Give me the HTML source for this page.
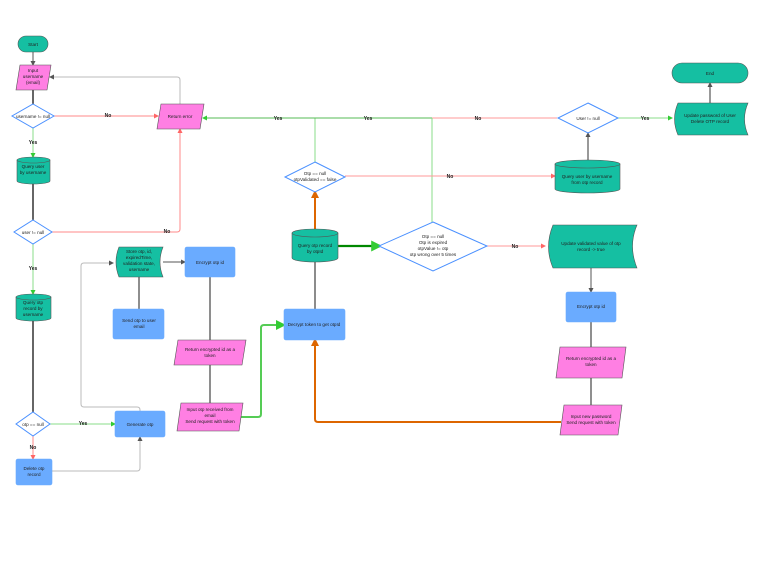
<!DOCTYPE html>
<html><head><meta charset="utf-8"><style>
html,body{margin:0;padding:0;background:#fff}
svg{display:block}
text{font-family:"Liberation Sans",sans-serif;font-size:4.6px;fill:#222;text-anchor:middle}
.l{font-size:5px;font-weight:bold}
</style></head><body>
<svg width="768" height="577" viewBox="0 0 768 577" xmlns="http://www.w3.org/2000/svg">
<defs>
<marker id="a" markerWidth="5" markerHeight="5" refX="4" refY="2.5" orient="auto"><path d="M0,0L5,2.5L0,5z" fill="#555"/></marker>
<marker id="ag" markerWidth="5" markerHeight="5" refX="4" refY="2.5" orient="auto"><path d="M0,0L5,2.5L0,5z" fill="#3c3"/></marker>
<marker id="ar" markerWidth="5" markerHeight="5" refX="4" refY="2.5" orient="auto"><path d="M0,0L5,2.5L0,5z" fill="#f66"/></marker>
<marker id="ao" markerWidth="4" markerHeight="4" refX="3" refY="2" orient="auto"><path d="M0,0L4,2L0,4z" fill="#d60"/></marker>
</defs>
<g fill="none" stroke-width="1">
<!-- connectors -->
<path d="M33 52V65" stroke="#555" marker-end="url(#a)"/>
<path d="M33 90V104" stroke="#333" stroke-width="1.5"/>
<path d="M54 116H158" stroke="#f88" marker-end="url(#ar)"/>
<path d="M180 104V80q0-3-3-3H50" stroke="#bbb" marker-end="url(#a)"/>
<path d="M33 128V157" stroke="#8d8" marker-end="url(#ag)"/>
<path d="M33 183V220" stroke="#333" stroke-width="1.5"/>
<path d="M52 232H177q3 0 3-3V129" stroke="#f88" marker-end="url(#ar)"/>
<path d="M33 244V294" stroke="#8d8" marker-end="url(#ag)"/>
<path d="M33 320V412" stroke="#333" stroke-width="1.5"/>
<path d="M50 424H115" stroke="#8d8" marker-end="url(#ag)"/>
<path d="M33 436V459" stroke="#f88" marker-end="url(#ar)"/>
<path d="M52 471H137q3 0 3-3V437" stroke="#bbb" marker-end="url(#a)"/>
<path d="M140 411V410q0-3-3-3H84q-3 0-3-3V266q0-3 3-3H113" stroke="#bbb" marker-end="url(#a)"/>
<path d="M163 262H185" stroke="#555" marker-end="url(#a)"/>
<path d="M139 277V309" stroke="#444" stroke-width="1.2"/>
<path d="M210 277V340" stroke="#444" stroke-width="1.2"/>
<path d="M210 365V403" stroke="#444" stroke-width="1.2"/>
<path d="M241 417H258q3 0 3-3V328q0-3 3-3H284" stroke="#5c5" stroke-width="2" marker-end="url(#ag)"/>
<path d="M315 309V262" stroke="#666" stroke-width="1.5"/>
<path d="M315 229V192" stroke="#d60" stroke-width="2" marker-end="url(#ao)"/>
<path d="M315 162V118" stroke="#8d8"/>
<path d="M432 118H203" stroke="#5b5" marker-end="url(#ag)"/>
<path d="M557 118H432" stroke="#f99"/>
<path d="M432 222V118" stroke="#8d8"/>
<path d="M345 176H555" stroke="#f99" marker-end="url(#ar)"/>
<path d="M338 246H380" stroke="#080" stroke-width="2.2" marker-end="url(#ag)"/>
<path d="M487 246H545" stroke="#f99" marker-end="url(#ar)"/>
<path d="M618 118H672" stroke="#8d8" marker-end="url(#ag)"/>
<path d="M588 160V133" stroke="#333" marker-end="url(#a)"/>
<path d="M710 103V83" stroke="#333" marker-end="url(#a)"/>
<path d="M591 268V292" stroke="#555" marker-end="url(#a)"/>
<path d="M591 322V347" stroke="#444" stroke-width="1.2"/>
<path d="M591 378V405" stroke="#444" stroke-width="1.2"/>
<path d="M561 422H318q-3 0-3-3V340" stroke="#d60" stroke-width="2" marker-end="url(#ao)"/>
</g>
<!-- shapes -->
<g stroke="#555" stroke-width="0.6">
<rect x="18" y="36" width="30" height="16" rx="8" fill="#15bfa2"/>
<rect x="672" y="63" width="76" height="20" rx="10" fill="#15bfa2"/>
<path d="M20 65H51L47 90H16z" fill="#ff7fe3"/>
<path d="M161 104H204L200 129H157z" fill="#ff7fe3"/>
<path d="M178 340H246L242 365H174z" fill="#ff7fe3"/>
<path d="M181 403H243L239 431H177z" fill="#ff7fe3"/>
<path d="M560 347H626L622 378H556z" fill="#ff7fe3"/>
<path d="M564 405H622L618 435H560z" fill="#ff7fe3"/>
<g fill="#15bfa2">
<path d="M17 160v21a16.5 3 0 0 0 33 0v-21z"/><ellipse cx="33.5" cy="160" rx="16.5" ry="3"/>
<path d="M16 297v21a17.5 3 0 0 0 35 0v-21z"/><ellipse cx="33.5" cy="297" rx="17.5" ry="3"/>
<path d="M292 233v25a23 4 0 0 0 46 0v-25z"/><ellipse cx="315" cy="233" rx="23" ry="4"/>
<path d="M555 164v25a32.5 4 0 0 0 65 0v-25z"/><ellipse cx="587.5" cy="164" rx="32.5" ry="4"/>
<path d="M119 247H163q-6 15 0 30H119q-6-15 0-30z"/>
<path d="M678 103H748q-7 16 0 32H678q-7-16 0-32z"/>
<path d="M553 225H637q-9 21 0 43H553q-9-21 0-43z"/>
</g>
<g fill="#6aabff" stroke="#6aabff">
<rect x="185" y="247" width="50" height="30" rx="2"/>
<rect x="113" y="309" width="51" height="30" rx="2"/>
<rect x="115" y="411" width="50" height="26" rx="2"/>
<rect x="16" y="459" width="36" height="26" rx="2"/>
<rect x="284" y="309" width="61" height="31" rx="2"/>
<rect x="566" y="292" width="50" height="30" rx="2"/>
</g>
<g fill="#fff" stroke="#4a90ff" stroke-width="1">
<path d="M33 104L54 116L33 128L12 116z"/>
<path d="M33 220L52 232L33 244L14 232z"/>
<path d="M33 412L50 424L33 436L16 424z"/>
<path d="M315 162L345 177L315 192L285 177z"/>
<path d="M433 222L487 246L433 271L379 246z"/>
<path d="M588 103L618 118L588 133L558 118z"/>
</g>
</g>
<!-- text -->
<text x="33" y="46" fill="#fff">Start</text>
<text x="710" y="75">End</text>
<text x="33" y="72">Input</text><text x="33" y="78">username</text><text x="33" y="84">(email)</text>
<text x="33" y="118">username != null</text>
<text x="180" y="118">Return error</text>
<text x="33" y="168">Query user</text><text x="33" y="174">by username</text>
<text x="33" y="234">user != null</text>
<text x="33" y="304">Query otp</text><text x="33" y="310">record by</text><text x="33" y="316">username</text>
<text x="33" y="426">otp == null</text>
<text x="34" y="470">Delete otp</text><text x="34" y="476">record</text>
<text x="140" y="426">Generate otp</text>
<text x="139" y="253">Store otp, id,</text><text x="139" y="259">expiredTime,</text><text x="139" y="265">validation state,</text><text x="139" y="271">username</text>
<text x="210" y="264">Encrypt otp id</text>
<text x="139" y="322">Send otp to user</text><text x="139" y="328">email</text>
<text x="210" y="351">Return encrypted id as a</text><text x="210" y="357">token</text>
<text x="210" y="411">Input otp received from</text><text x="210" y="417">email</text><text x="210" y="423">Send request with  token</text>
<text x="314" y="326">Decrypt token to get otpId</text>
<text x="315" y="247">Query otp record</text><text x="315" y="253">by otpId</text>
<text x="315" y="175">Otp == null</text><text x="315" y="181">otpValidated == false</text>
<text x="433" y="238">Otp == null</text><text x="433" y="244">Otp is expired</text><text x="433" y="250">otpValue != otp</text><text x="433" y="256">otp wrong over 5 times</text>
<text x="588" y="120">User != null</text>
<text x="587" y="178">Query user by username</text><text x="587" y="184">from otp record</text>
<text x="710" y="117">Update password of User</text><text x="710" y="123">Delete OTP record</text>
<text x="591" y="245">Update validated value of otp</text><text x="591" y="251">record -&gt; true</text>
<text x="591" y="308">Encrypt otp id</text>
<text x="591" y="360">Return encrypted id as a</text><text x="591" y="366">token</text>
<text x="591" y="418">Input new password</text><text x="591" y="424">Send request with token</text>
<g class="l">
<text class="l" x="108" y="117">No</text>
<text class="l" x="167" y="233">No</text>
<text class="l" x="33" y="144">Yes</text>
<text class="l" x="33" y="270">Yes</text>
<text class="l" x="83" y="425">Yes</text>
<text class="l" x="33" y="449">No</text>
<text class="l" x="278" y="120">Yes</text>
<text class="l" x="368" y="120">Yes</text>
<text class="l" x="478" y="120">No</text>
<text class="l" x="450" y="178">No</text>
<text class="l" x="515" y="248">No</text>
<text class="l" x="645" y="120">Yes</text>
</g>
</svg>
</body></html>
